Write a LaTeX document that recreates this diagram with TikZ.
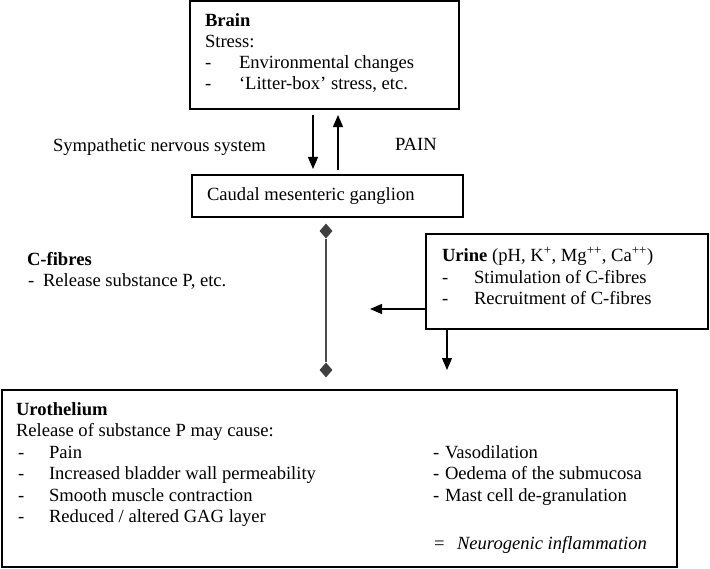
\documentclass[tikz,border=0pt]{standalone}
\usepackage{fontspec}
\setmainfont{Liberation Serif}
\usetikzlibrary{arrows.meta,shapes.geometric}
\begin{document}
\begin{tikzpicture}[x=1bp,y=-1bp,
  box/.style={draw,line width=1.4bp,inner sep=0pt,outer sep=0pt,anchor=north west},
  txt/.style={anchor=base west,inner sep=0pt,outer sep=0pt,font=\fontsize{18.6bp}{21.5bp}\selectfont},
  btxt/.style={txt,font=\fontsize{18.6bp}{21.5bp}\selectfont\bfseries},
  arr/.style={line width=1.2bp,-{Triangle[length=12bp,width=10bp]}},
  dia/.style={diamond,fill=black!75,inner sep=0pt,minimum width=13bp,minimum height=15bp},
  fibre/.style={draw=black!70,line width=2.2bp}
]
\useasboundingbox (0,0) rectangle (710,569);

% boxes
\node[box,minimum width=269bp,minimum height=108bp] (brain) at (190,1) {};
\node[box,minimum width=271bp,minimum height=42bp] (caudal) at (192,175) {};
\node[box,minimum width=282bp,minimum height=95bp] (urine) at (426,234) {};
\node[box,minimum width=675bp,minimum height=177bp] (uro) at (2,390) {};

% brain text
\node[btxt] (t1) at (205,27) {Brain};
\node[txt] (t2) at (205,48) {Stress:};
\node[txt] (t3) at (205,69) {-};
\node[txt] (t4) at (239,69) {Environmental changes};
\node[txt] (t5) at (205,90) {-};
\node[txt] (t6) at (239,90) {‘Litter-box’ stress, etc.};

% side labels
\node[txt] (sns) at (53,152) {Sympathetic nervous system};
\node[txt] (pain) at (395,151) {PAIN};

% caudal text
\node[txt] (t7) at (207,201) {Caudal mesenteric ganglion};

% C-fibres
\node[btxt] (cf) at (27,265) {C-fibres};
\node[txt] (cf1) at (28,286) {-};
\node[txt] (cf2) at (43,286) {Release substance P, etc.};

% urine text
\node[txt] (u1) at (442,261) {\textbf{Urine} (pH, K\textsuperscript{+}, Mg\textsuperscript{++}, Ca\textsuperscript{++})};
\node[txt] (u2) at (442,283) {-};
\node[txt] (u3) at (474,283) {Stimulation of C-fibres};
\node[txt] (u4) at (442,304) {-};
\node[txt] (u5) at (474,304) {Recruitment of C-fibres};

% urothelium text
\node[btxt] (r0) at (16,415) {Urothelium};
\node[txt] (r1) at (16,436.5) {Release of substance P may cause:};
\node[txt] (r2a) at (18,458) {-};
\node[txt] (r2) at (49,458) {Pain};
\node[txt] (r3a) at (18,479.5) {-};
\node[txt] (r3) at (49,479.5) {Increased bladder wall permeability};
\node[txt] (r4a) at (18,501) {-};
\node[txt] (r4) at (49,501) {Smooth muscle contraction};
\node[txt] (r5a) at (18,522.5) {-};
\node[txt] (r5) at (49,522.5) {Reduced / altered GAG layer};
\node[txt] (s1a) at (433,458) {-};
\node[txt] (s1) at (445,458) {Vasodilation};
\node[txt] (s2a) at (433,479.5) {-};
\node[txt] (s2) at (445,479.5) {Oedema of the submucosa};
\node[txt] (s3a) at (433,501) {-};
\node[txt] (s3) at (445,501) {Mast cell de-granulation};
\node[txt] (s4a) at (434,549) {=};
\node[txt] (s4) at (457,549) {\itshape Neurogenic inflammation};

% arrows brain <-> caudal
\coordinate (dn) at (313,0);
\coordinate (up) at (338,0);
\draw[arr,shorten <=6bp,shorten >=6bp] (brain.south -| dn) -- (caudal.north -| dn);
\draw[arr,shorten <=5bp,shorten >=6bp] (caudal.north -| up) -- (brain.south -| up);

% C-fibre line with diamonds
\node[dia] (d1) at (326,231) {};
\node[dia] (d2) at (326,370) {};
\draw[fibre] (d1) -- (d2);

% urine arrows
\coordinate (la) at (370,309);
\coordinate (da) at (447,370);
\draw[arr] (urine.west |- la) -- (la);
\draw[arr] (urine.south -| da) -- (da);
\end{tikzpicture}
\end{document}
